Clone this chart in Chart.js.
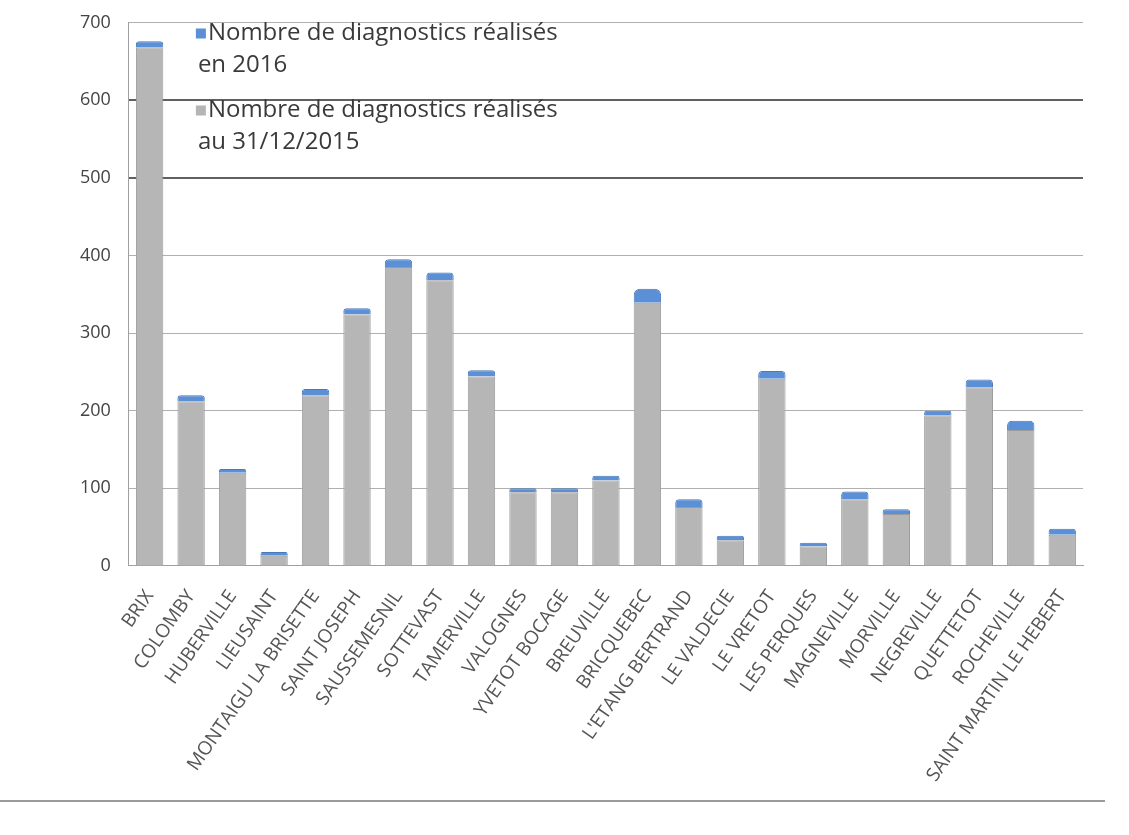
<!DOCTYPE html>
<html lang="fr">
<head>
<meta charset="utf-8">
<title>Diagnostics réalisés par commune</title>
<script src="https://cdn.jsdelivr.net/npm/chart.js@4/dist/chart.umd.min.js"></script>
<style>
    html, body { margin: 0; padding: 0; background: #fff; }
    #wrap { position: relative; width: 1129px; height: 835px; }
    #rule { position: absolute; left: 0; top: 800px; width: 1105px; height: 0; border-top: 2px solid #9a9a9a; }
</style>
</head>
<body>
<div id="wrap">
    <canvas id="chart" width="1129" height="835"></canvas>
    <div id="rule"></div>
</div>
<script>
// Communes (axe des catégories)
const communes = [
    'BRIX', 'COLOMBY', 'HUBERVILLE', 'LIEUSAINT', 'MONTAIGU LA BRISETTE',
    'SAINT JOSEPH', 'SAUSSEMESNIL', 'SOTTEVAST', 'TAMERVILLE', 'VALOGNES',
    'YVETOT BOCAGE', 'BREUVILLE', 'BRICQUEBEC', "L'ETANG BERTRAND", 'LE VALDECIE',
    'LE VRETOT', 'LES PERQUES', 'MAGNEVILLE', 'MORVILLE', 'NEGREVILLE',
    'QUETTETOT', 'ROCHEVILLE', 'SAINT MARTIN LE HEBERT'
];

// Diagnostics réalisés au 31/12/2015 (estimés sur le graphique)
const au2015 = [668, 212, 120, 13, 220, 324, 385, 368, 244, 95, 95, 110, 339, 76, 33, 241, 25, 86, 67, 194, 230, 175, 40];

// Diagnostics réalisés en 2016
const en2016 = [8, 8, 5, 5, 8, 8, 10, 10, 8, 5, 5, 6, 18, 10, 6, 10, 5, 10, 6, 6, 10, 12, 8];

const yTicks = [0, 100, 200, 300, 400, 500, 600, 700];

const legendItems = [
    { lines: ['Nombre de diagnostics réalisés', 'en 2016'], color: '#5b8fd6' },
    { lines: ['Nombre de diagnostics réalisés', 'au 31/12/2015'], color: '#b5b5b5' }
];

// Légende dessinée à l'intérieur de la zone de tracé, comme sur l'original
const insideLegend = {
    id: 'insideLegend',
    afterDraw(chart) {
        const ctx = chart.ctx;
        const area = chart.chartArea;
        const x = area.left + 67;
        let y = area.top + 11;
        ctx.save();
        ctx.font = '24px "Open Sans", sans-serif';
        ctx.textBaseline = 'middle';
        legendItems.forEach(item => {
            ctx.fillStyle = item.color;
            ctx.fillRect(x, y - 5, 10, 10);
            ctx.fillStyle = '#3a3a3a';
            item.lines.forEach((line, i) => {
                ctx.fillText(line, i === 0 ? x + 12 : x + 2, y + i * 32);
            });
            y += 77;
        });
        ctx.restore();
    }
};

const ctx = document.getElementById('chart').getContext('2d');

new Chart(ctx, {
    type: 'bar',
    data: {
        labels: communes,
        datasets: [
            {
                label: 'Nombre de diagnostics réalisés au 31/12/2015',
                data: au2015,
                backgroundColor: '#b6b6b6',
                borderColor: '#9c9c9c',
                borderWidth: 1,
                barPercentage: 0.66,
                categoryPercentage: 1
            },
            {
                label: 'Nombre de diagnostics réalisés en 2016',
                data: en2016,
                backgroundColor: '#5b8fd6',
                borderColor: '#4a78b8',
                borderWidth: 1,
                borderRadius: { topLeft: 6, topRight: 6 },
                borderSkipped: 'bottom',
                barPercentage: 0.66,
                categoryPercentage: 1
            }
        ]
    },
    options: {
        responsive: false,
        animation: false,
        layout: {
            padding: { left: 62, right: 46, top: 0, bottom: 37 }
        },
        scales: {
            x: {
                stacked: true,
                grid: { display: false },
                border: { color: '#a0a0a0' },
                ticks: {
                    padding: 12,
                    minRotation: 55,
                    maxRotation: 55,
                    autoSkip: false,
                    color: '#555',
                    font: { family: '"Open Sans", sans-serif', size: 19 }
                }
            },
            y: {
                stacked: true,
                min: 0,
                max: 700,
                afterBuildTicks(scale) {
                    scale.ticks = yTicks.map(v => ({ value: v }));
                },
                grid: {
                    color(c) {
                        const v = c.tick && c.tick.value;
                        return (v === 500 || v === 600) ? '#606060' : '#b0b0b0';
                    },
                    lineWidth(c) {
                        const v = c.tick && c.tick.value;
                        return (v === 500 || v === 600) ? 2 : 1;
                    },
                    drawTicks: false
                },
                border: { color: '#a0a0a0' },
                ticks: {
                    padding: 18,
                    color: '#444',
                    font: { family: '"Open Sans", sans-serif', size: 18, lineHeight: 0.5 }
                }
            }
        },
        plugins: {
            legend: { display: false },
            tooltip: { enabled: false }
        }
    },
    plugins: [insideLegend]
});
</script>
</body>
</html>
